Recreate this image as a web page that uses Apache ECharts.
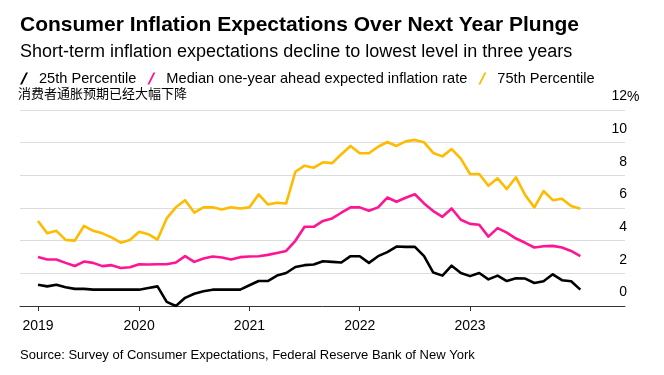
<!DOCTYPE html>
<html>
<head>
<meta charset="utf-8">
<script src="https://cdn.jsdelivr.net/npm/echarts@6/dist/echarts.min.js"></script>
<style>
  html, body { margin: 0; padding: 0; background: #fff; }
  #chart { width: 664px; height: 375px; }
</style>
</head>
<body>
<div id="chart"></div>
<script>
// monthly readings, Jan 2019 .. Dec 2023
const years = [2019, 2020, 2021, 2022, 2023]
const p25 = [
  1.3, 1.2, 1.3, 1.15, 1.05, 1.05, 1.0, 1.0, 1.0, 1.0, 1.0, 1.0,
  1.1, 1.2, 0.25, 0.0, 0.5, 0.75, 0.9, 1.0, 1.0, 1.0, 1.0, 1.27,
  1.53, 1.53, 1.86, 2.02, 2.39, 2.5, 2.54, 2.74, 2.7, 2.66, 3.05, 3.05,
  2.64, 3.05, 3.3, 3.64, 3.62, 3.62, 3.05, 2.05, 1.86, 2.47, 2.02, 1.83,
  2.02, 1.63, 1.86, 1.53, 1.7, 1.68, 1.41, 1.52, 1.94, 1.58, 1.52, 1.0
]
const median = [
  3.0, 2.85, 2.85, 2.64, 2.45, 2.72, 2.64, 2.44, 2.5, 2.33, 2.37, 2.56,
  2.54, 2.56, 2.56, 2.66, 3.05, 2.7, 2.91, 3.03, 2.97, 2.85, 2.99, 3.03,
  3.05, 3.13, 3.25, 3.37, 3.99, 4.85, 4.85, 5.21, 5.36, 5.71, 6.04, 6.04,
  5.83, 6.04, 6.64, 6.38, 6.63, 6.84, 6.28, 5.81, 5.46, 5.97, 5.28, 5.03,
  4.97, 4.25, 4.77, 4.49, 4.13, 3.87, 3.58, 3.66, 3.68, 3.58, 3.37, 3.05
]
const p75 = [
  5.2, 4.45, 4.6, 4.05, 4.0, 4.9, 4.6, 4.45, 4.2, 3.88, 4.04, 4.55,
  4.4, 4.07, 5.36, 6.04, 6.48, 5.72, 6.04, 6.04, 5.91, 6.04, 5.97, 6.04,
  6.83, 6.22, 6.32, 6.28, 8.22, 8.59, 8.47, 8.8, 8.75, 9.29, 9.8, 9.35,
  9.35, 9.75, 10.04, 9.8, 10.08, 10.17, 10.02, 9.37, 9.16, 9.61, 9.02, 8.08,
  8.08, 7.36, 7.82, 7.16, 7.88, 6.79, 6.04, 7.04, 6.48, 6.57, 6.12, 5.95
]
const names = ['25th Percentile', 'Median one-year ahead expected inflation rate', '75th Percentile']
const colors = ['#000000', '#ff1493', '#ffbb00']
const yMax = 12

// each reading sits at its month end, as a fraction of a year
const monthEnds = []
years.forEach(y => {
  for (let m = 1; m <= 12; m++) monthEnds.push(y + m / 12)
})
const pairs = vals => vals.map((v, i) => [monthEnds[i], v])

const xTicks = [monthEnds[0]].concat(years.slice(1))
const slash = 'path://M0,12 L6,0 L8,0 L2,12 Z'
const font = '"Liberation Sans", Arial, sans-serif'

const chart = echarts.init(document.getElementById('chart'))
chart.setOption({
  animation: false,
  textStyle: { fontFamily: font },
  title: [
    {
      text: 'Consumer Inflation Expectations Over Next Year Plunge',
      left: 20, top: 15, padding: 0,
      textStyle: { fontSize: 21, fontWeight: 'bold', color: '#000', fontFamily: font }
    },
    {
      text: 'Short-term inflation expectations decline to lowest level in three years',
      left: 20, top: 43, padding: 0,
      textStyle: { fontSize: 18, fontWeight: 'normal', color: '#000', fontFamily: font }
    },
    {
      text: '消费者通胀预期已经大幅下降',
      left: 18, top: 87, padding: 0,
      textStyle: { fontSize: 13, fontWeight: 'normal', color: '#000', fontFamily: '"Noto Sans CJK SC", sans-serif' }
    },
    {
      text: 'Source: Survey of Consumer Expectations, Federal Reserve Bank of New York',
      left: 20, top: 349, padding: 0,
      textStyle: { fontSize: 13, fontWeight: 'normal', color: '#000', fontFamily: font }
    }
  ],
  legend: {
    left: 20, top: 71, padding: 0,
    icon: slash,
    itemWidth: 8, itemHeight: 12,
    itemGap: 11,
    data: names,
    selectedMode: false,
    textStyle: { fontSize: 14.6, color: '#000', fontFamily: font, padding: [0, 0, 0, 6] }
  },
  grid: { left: 20, right: 39, top: 110, bottom: 69 },
  xAxis: {
    type: 'value',
    min: 2018.92,
    max: 2024.405,
    splitLine: { show: false },
    axisLine: { lineStyle: { color: '#333', width: 1 } },
    axisTick: { customValues: xTicks, length: 5, lineStyle: { color: '#333' } },
    axisLabel: {
      customValues: xTicks,
      formatter: v => String(Math.floor(v + 0.001)),
      fontSize: 14, color: '#000', margin: 13
    }
  },
  yAxis: {
    type: 'value',
    position: 'right',
    min: 0, max: yMax, interval: 2,
    axisLine: { show: false },
    axisTick: { show: false },
    splitLine: { lineStyle: { color: '#dcdcdc', width: 1.2 } },
    axisLabel: {
      inside: true,
      margin: -2,
      verticalAlign: 'bottom',
      lineHeight: 27,
      fontSize: 14, color: '#000'
    }
  },
  series: [p25, median, p75].map((vals, i) => ({
    name: names[i],
    type: 'line',
    data: pairs(vals),
    symbol: 'none',
    color: colors[i],
    lineStyle: { width: 2.6, color: colors[i], join: 'round' }
  }))
})

// percent sign hangs to the right of the top tick label
const topY = chart.convertToPixel({ yAxisIndex: 0 }, yMax)
chart.setOption({
  graphic: [{
    type: 'text',
    left: 627,
    top: topY - 20,
    style: { text: '%', fontSize: 14, fill: '#000', fontFamily: font }
  }]
})
</script>
</body>
</html>
